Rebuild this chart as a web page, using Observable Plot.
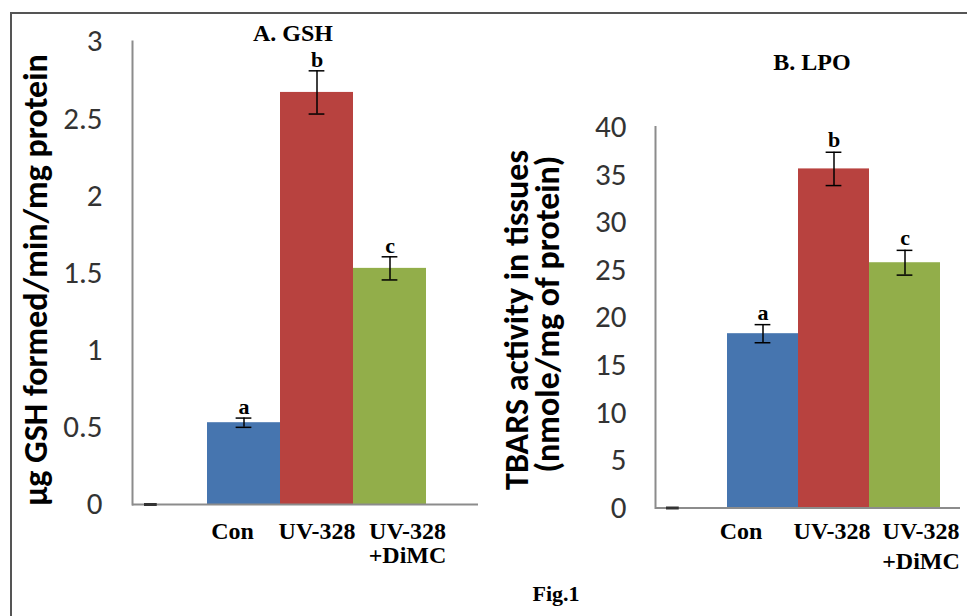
<!DOCTYPE html>
<html>
<head>
<meta charset="utf-8">
<script src="https://cdn.jsdelivr.net/npm/d3@7"></script>
<script src="https://cdn.jsdelivr.net/npm/@observablehq/plot@0.6"></script>
<style>
  html, body { margin: 0; padding: 0; background: #fff; }
  #wrap { position: relative; width: 967px; height: 616px; overflow: hidden; background: #fff; }
  #box { position: absolute; left: 10px; top: 12px; width: 990px; height: 700px;
         border-top: 2px solid #555; border-left: 2px solid #555; }
  .panel { position: absolute; top: 0; }
  .serif { position: absolute; white-space: nowrap; font-family: "Times New Roman", "Liberation Serif", serif;
           font-weight: bold; color: #000; transform: translateX(-50%); }
  .ytitle { position: absolute; white-space: nowrap; text-align: center; color: #000;
            font-family: Calibri, "Open Sans", sans-serif; font-weight: bold; font-size: 34px;
            line-height: 34px; height: 34px; width: 520px; transform: rotate(-90deg); }
</style>
</head>
<body>
<div id="wrap">
  <div id="box"></div>
  <div id="left" class="panel" style="left:0px"></div>
  <div id="right" class="panel" style="left:480px"></div>
  <div class="serif" style="left:293px; top:20.6px; font-size:24px; line-height:24px">A. GSH</div>
  <div class="serif" style="left:812px; top:50px; font-size:24px; line-height:24px">B. LPO</div>
  <div class="serif" style="left:556px; top:583px; font-size:22px; line-height:22px">Fig.1</div>
  <div class="ytitle" style="left:-223.8px; top:262.5px">µg GSH formed/min/mg protein</div>
  <div class="ytitle" style="left:257.2px; top:302.5px">TBARS activity in tissues</div>
  <div class="ytitle" style="left:288.2px; top:296.5px">(nmole/mg of protein)</div>
</div>
<script>
// ---- data ----
const categories = ["", "Con", "UV-328", "UV-328\n+DiMC"];
const barColors = ["#4675AF", "#B8423F", "#92AE4A"];
const sigLetters = ["", "a", "b", "c"];
const gshMean = [0, 0.53, 2.67, 1.53];
const gshErr  = [0, 0.03, 0.14, 0.075];
const lpoMean = [0, 18.3, 35.6, 25.75];
const lpoErr  = [0, 0.95, 1.75, 1.3];
const gshTicks = [0, 0.5, 1, 1.5, 2, 2.5, 3];
const lpoTicks = [0, 5, 10, 15, 20, 25, 30, 35, 40];

const serif = '"Times New Roman", "Liberation Serif", serif';
const sans = 'Calibri, "Open Sans", sans-serif';
const axisGray = "#8c8c8c";

function panel(o) {
  const rows = categories.map((c, i) => ({cat: c, mean: o.mean[i], err: o.err[i], letter: sigLetters[i]}));
  const bars = rows.filter(d => d.cat !== "");
  const bw = (o.xRange[1] - o.xRange[0]) / categories.length;
  const capInset = (bw - 16) / 2;
  const labelFont = 24;
  const labelDy = o.labelBaseline - 0.71 * o.lineHeight * labelFont;
  const labelMarks = bars.map((d, i) => Plot.text([d], {
    x: "cat", y: () => 0, text: "cat", lineAnchor: "top", lineHeight: o.lineHeight,
    dy: labelDy, dx: o.labelDx[i], fontFamily: serif, fontWeight: "bold", fontSize: labelFont, fill: "#000"
  }));
  return Plot.plot({
    width: o.width, height: 616,
    marginLeft: o.marginLeft, marginRight: o.marginRight, marginTop: o.marginTop, marginBottom: o.marginBottom,
    style: {background: "transparent", overflow: "visible"},
    x: {type: "band", domain: categories, range: o.xRange, padding: 0, axis: null},
    y: {domain: [0, o.yMax], axis: null},
    color: {domain: categories.slice(1), range: barColors},
    marks: [
      Plot.barY(bars, {x: "cat", y: "mean", fill: "cat"}),
      Plot.frame({anchor: "left", stroke: axisGray, strokeWidth: 2}),
      Plot.ruleY([0], {stroke: axisGray, strokeWidth: 2}),
      Plot.tickY([{cat: "", v: 0}], {x: "cat", y: "v", insetLeft: 10, insetRight: bw - 23, stroke: "#333", strokeWidth: 3}),
      Plot.ruleX(bars, {x: "cat", y1: d => d.mean - d.err, y2: d => d.mean + d.err, stroke: "#000", strokeWidth: 1.5}),
      Plot.tickY(bars, {x: "cat", y: d => d.mean + d.err, insetLeft: capInset, insetRight: capInset, stroke: "#000", strokeWidth: 1.5}),
      Plot.tickY(bars, {x: "cat", y: d => d.mean - d.err, insetLeft: capInset, insetRight: capInset, stroke: "#000", strokeWidth: 1.5}),
      Plot.text(bars, {x: "cat", y: d => d.mean + d.err, text: "letter", lineAnchor: "bottom", dy: o.letterDy,
        fontFamily: serif, fontWeight: "bold", fontSize: 22, fill: "#000"}),
      Plot.axisY({ticks: o.ticks, tickSize: 0, tickPadding: o.tickPadding, tickFormat: d => String(d),
        fontSize: 31, fontFamily: sans, fill: "#333", label: null}),
      ...labelMarks
    ]
  });
}

document.getElementById("left").append(panel({
  mean: gshMean, err: gshErr, ticks: gshTicks, yMax: 3,
  width: 485, marginLeft: 132, marginRight: 7, marginTop: 41, marginBottom: 112,
  xRange: [133, 426], tickPadding: 30, labelBaseline: 34.3, lineHeight: 1.0,
  labelDx: [-11.5, 0, 17.5], letterDy: -4
}));
document.getElementById("right").append(panel({
  mean: lpoMean, err: lpoErr, ticks: lpoTicks, yMax: 40,
  width: 487, marginLeft: 175, marginRight: 7, marginTop: 126.5, marginBottom: 108.5,
  xRange: [175, 460], tickPadding: 29, labelBaseline: 30.8, lineHeight: 1.25,
  labelDx: [-22, -2, 16], letterDy: -5
}));
</script>
</body>
</html>
